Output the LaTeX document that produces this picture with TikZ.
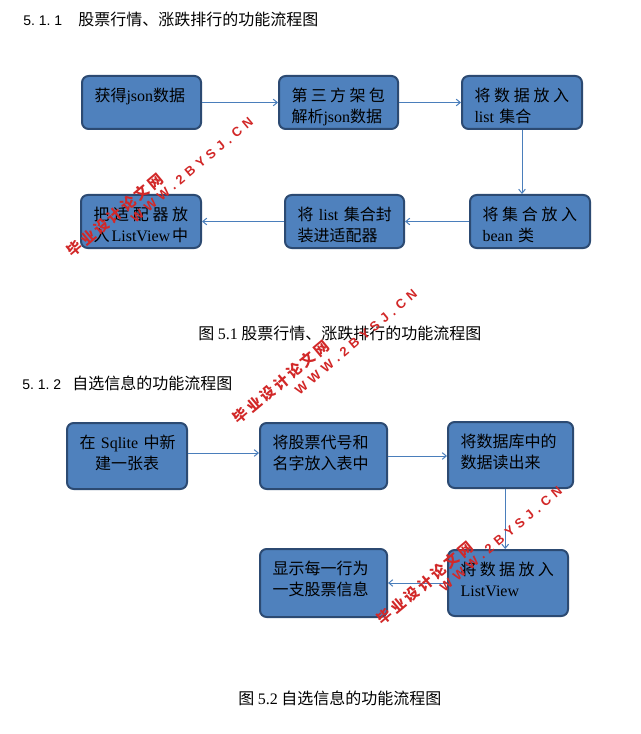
\documentclass[tikz,border=0pt]{standalone}
\usepackage{fontspec}
\setmainfont{Liberation Serif}
\newfontfamily\cjk{Noto Sans CJK SC}
\newfontfamily\arialf{Liberation Sans}
\newfontfamily\wmcjk{Noto Sans CJK SC}[LetterSpace=19]
\newfontfamily\wmlat{Liberation Sans}[LetterSpace=36]
\usetikzlibrary{arrows.meta}
\definecolor{boxfill}{HTML}{4F81BD}
\definecolor{boxline}{HTML}{2C4A72}
\definecolor{arrowc}{HTML}{4A7EBB}
\definecolor{wmred}{HTML}{D22828}
\newcommand\la[1]{{\rmfamily #1}}
\newcommand\spreadline[2]{\makebox[#1][s]{#2}}
\begin{document}
\begin{tikzpicture}[x=0.75pt,y=-0.75pt,
  flowbox/.style 2 args={draw=boxline, fill=boxfill, line width=1.5pt, rounded corners=5pt,
     inner xsep=9.4pt, inner ysep=8pt, text width=#1, text height=11pt, text depth=#2,
     align=left, anchor=north west, font=\cjk\fontsize{12pt}{15.75pt}\selectfont},
  conn/.style={draw=arrowc, line width=0.75pt, -{Straight Barb[length=3pt,width=5pt]}},
  heading/.style={anchor=base west, inner sep=0pt, font=\cjk\fontsize{12pt}{15pt}\selectfont},
  captiontext/.style={anchor=base west, inner sep=0pt, font=\cjk\fontsize{12pt}{15pt}\selectfont},
  wmc/.style={text=wmred, rotate=40, inner sep=0pt, font=\wmcjk\bfseries\fontsize{11pt}{13pt}\selectfont},
  wml/.style={text=wmred, rotate=40, inner sep=0pt, font=\wmlat\bfseries\fontsize{9.75pt}{12pt}\selectfont}
]
\fill[white] (0,0) rectangle (641,734);
\useasboundingbox (0,0) rectangle (641,734);

% headings and captions
\node[heading] (h1) at (23,26) {\makebox[41.25pt][l]{\arialf\fontsize{10.5pt}{12pt}\selectfont 5.\ 1.\ 1}股票行情、涨跌排行的功能流程图};
\node[captiontext] (c1) at (198,339) {图 \la{5.1} 股票行情、涨跌排行的功能流程图};
\node[heading] (h2) at (22,389.5) {\makebox[37.5pt][l]{\arialf\fontsize{10.5pt}{12pt}\selectfont 5.\ 1.\ 2}自选信息的功能流程图};
\node[captiontext] (c2) at (238,704.5) {图 \la{5.2} 自选信息的功能流程图};

% first flow chart
\node[flowbox={70.5pt}{12.75pt}] (b1) at (81,75) {\mbox{获得\la{json}数据}};
\node[flowbox={70.5pt}{12.75pt}] (b2) at (278,75) {\spreadline{70pt}{第\hfill 三\hfill 方\hfill 架\hfill 包}\\\mbox{解析\la{json}数据}};
\node[flowbox={71.2pt}{12.75pt}] (b3) at (461,75) {\spreadline{71pt}{将\hfill 数\hfill 据\hfill 放\hfill 入}\\\mbox{\la{list} 集合}};
\node[flowbox={71.2pt}{12.75pt}] (b4) at (80,194) {\spreadline{71pt}{把\hfill 适\hfill 配\hfill 器\hfill 放}\\\spreadline{71pt}{入\hfill\la{ListView}\hfill 中}};
\node[flowbox={70.5pt}{12.75pt}] (b5) at (284,194) {\mbox{将 \la{list} 集合封}\\\mbox{装进适配器}};
\node[flowbox={71.2pt}{12.75pt}] (b6) at (469,194) {\spreadline{71pt}{将\hfill 集\hfill 合\hfill 放\hfill 入}\\\mbox{\la{bean} 类}};

\draw[conn] (b1) -- (b2);
\draw[conn] (b2) -- (b3);
\draw[conn] (b3.south) -- (b3.south |- b6.north);
\draw[conn] (b6) -- (b5);
\draw[conn] (b5) -- (b4);

% second flow chart
\node[flowbox={71.2pt}{22.5pt}, align=center] (sA) at (66,422) {\mbox{在 \la{Sqlite} 中新}\\\mbox{建一张表}};
\node[flowbox={76.5pt}{22.5pt}] (sB) at (259,422) {\mbox{将股票代号和}\\\mbox{名字放入表中}};
\node[flowbox={75pt}{22.5pt}] (sC) at (447,421) {\mbox{将数据库中的}\\\mbox{数据读出来}};
\node[flowbox={76.5pt}{24pt}] (sD) at (259,548) {\mbox{显示每一行为}\\\mbox{一支股票信息}};
\node[flowbox={71.2pt}{22.5pt}] (sE) at (447,549) {\spreadline{70pt}{将\hfill 数\hfill 据\hfill 放\hfill 入}\\\mbox{\la{ListView}}};

\draw[conn] ([yshift=2.25pt]sA.east) -- ([yshift=2.25pt]sA.east -| sB.west);
\draw[conn] (sB.east) -- (sB.east -| sC.west);
\draw[conn] ([xshift=-4pt]sC.south) -- ([xshift=-4pt]sC.south |- sE.north);
\draw[conn] (sE.west) -- (sE.west -| sD.east);

% watermarks
\node[wmc] (wm1a) at (115,215) {毕业设计论文网};
\node[wml] (wm1b) at (192,170) {WWW.2BYSJ.CN};
\node[wmc] (wm2a) at (281,382) {毕业设计论文网};
\node[wml] (wm2b) at (356,342) {WWW.2BYSJ.CN};
\node[wmc] (wm3a) at (425,583) {毕业设计论文网};
\node[wml] (wm3b) at (501,539) {WWW.2BYSJ.CN};
\end{tikzpicture}
\end{document}
